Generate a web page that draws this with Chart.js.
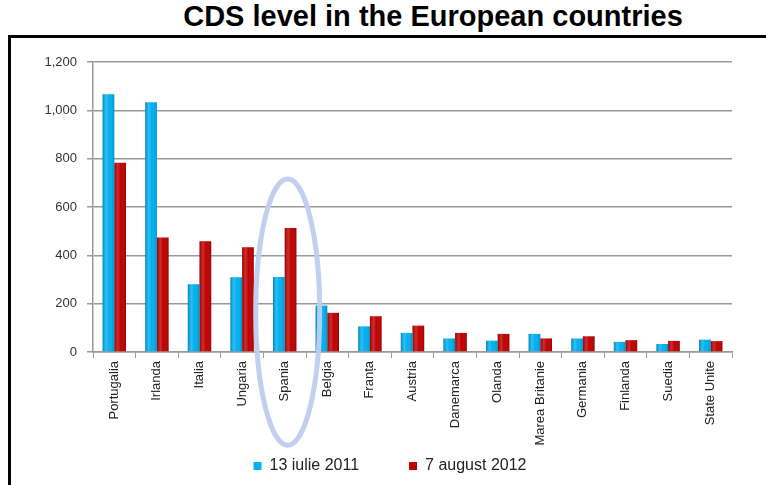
<!DOCTYPE html>
<html>
<head>
<meta charset="utf-8">
<script src="https://cdn.jsdelivr.net/npm/chart.js@4"></script>
<style>
  body { margin: 0; background: #fff; width: 766px; height: 485px; overflow: hidden; position: relative; }
  #title { position: absolute; top: 0px; left: 50px; width: 766px; text-align: center;
           font: bold 29px "Liberation Sans", Arial, sans-serif; color: #000; }
  #frame { position: absolute; top: 35px; left: 8px; width: 760px; height: 460px;
           border-top: 3px solid #000; border-left: 3px solid #000; }
  #cds { position: absolute; top: 0; left: 0; }
</style>
</head>
<body>
<div id="title">CDS level in the European countries</div>
<div id="frame"></div>
<canvas id="cds" width="766" height="485"></canvas>
<script>
// categories and series
const countries = ['Portugalia', 'Irlanda', 'Italia', 'Ungaria', 'Spania', 'Belgia', 'Franța', 'Austria',
    'Danemarca', 'Olanda', 'Marea Britanie', 'Germania', 'Finlanda', 'Suedia', 'State Unite'];
const jul2011 = [1067, 1033, 280, 309, 310, 192, 106, 79, 56, 47, 75, 56, 42, 33, 51];
const aug2012 = [783, 474, 458, 433, 513, 162, 148, 109, 79, 75, 56, 65, 49, 46, 45];
const seriesNames = ['13 iulie 2011', '7 august 2012'];
const yTicks = [0, 200, 400, 600, 800, 1000, 1200];

const blue = '#00b0f0';
const red = '#c00000';
const fontName = '"Liberation Sans", Arial, sans-serif';

// cylinder-ish shading on top of each bar
const shading = {
    id: 'shading',
    afterDatasetsDraw(chart) {
        const ctx = chart.ctx;
        chart.data.datasets.forEach((ds, i) => {
            chart.getDatasetMeta(i).data.forEach((bar) => {
                const left = bar.x - bar.width / 2;
                const g = ctx.createLinearGradient(left, 0, left + bar.width, 0);
                g.addColorStop(0, 'rgba(0,0,0,0.22)');
                g.addColorStop(0.3, 'rgba(255,255,255,0.18)');
                g.addColorStop(0.55, 'rgba(255,255,255,0)');
                g.addColorStop(1, 'rgba(0,0,0,0.18)');
                ctx.save();
                ctx.fillStyle = g;
                ctx.fillRect(left, bar.y, bar.width, bar.base - bar.y);
                ctx.restore();
            });
        });
    }
};

// highlight ring round Spania
const ring = {
    id: 'ring',
    afterDraw(chart) {
        const xs = chart.scales.x, ys = chart.scales.y;
        const cx = xs.getPixelForValue(countries.indexOf('Spania')) + 3;
        const cy = ys.getPixelForValue(165);
        const ctx = chart.ctx;
        ctx.save();
        ctx.beginPath();
        ctx.ellipse(cx, cy, 32, 133, 0, 0, Math.PI * 2);
        ctx.strokeStyle = 'rgba(190,206,238,0.95)';
        ctx.lineWidth = 5;
        ctx.stroke();
        ctx.restore();
    }
};

new Chart(document.getElementById('cds'), {
    type: 'bar',
    data: {
        labels: countries,
        datasets: [
            { label: seriesNames[0], data: jul2011, backgroundColor: blue, borderWidth: 0 },
            { label: seriesNames[1], data: aug2012, backgroundColor: red, borderWidth: 0 }
        ]
    },
    options: {
        responsive: false,
        animation: false,
        layout: { padding: { top: 62, left: 14, right: 0, bottom: 1 } },
        datasets: { bar: { categoryPercentage: 0.55, barPercentage: 1.0 } },
        plugins: {
            legend: {
                position: 'bottom',
                labels: {
                    boxWidth: 8, boxHeight: 8, padding: 10,
                    color: '#222',
                    font: { family: fontName, size: 16 },
                    // extra room after the first entry, like the original legend
                    generateLabels(chart) {
                        const items = Chart.defaults.plugins.legend.labels.generateLabels(chart);
                        items[0].text += '\u2003\u2003\u2002';
                        return items;
                    }
                }
            },
            tooltip: { enabled: false }
        },
        scales: {
            x: {
                grid: { display: true, drawOnChartArea: false, color: '#999', tickLength: 6 },
                border: { color: '#999', width: 1.5 },
                ticks: { minRotation: 90, maxRotation: 90, autoSkip: false, color: '#222',
                         font: { family: fontName, size: 13 } },
                afterFit(scale) { scale.height = 96; }
            },
            y: {
                min: 0, max: 1200,
                afterBuildTicks(scale) { scale.ticks = yTicks.map(v => ({ value: v })); },
                grid: { color: '#999', lineWidth: 1.5, tickLength: 6 },
                border: { color: '#999', width: 1.5 },
                ticks: { color: '#333', padding: 10, font: { family: fontName, size: 13 },
                         callback: v => v.toLocaleString('en-US') },
                afterFit(scale) { scale.width = 79; }
            },
            yRight: {
                position: 'right',
                display: true,
                grid: { display: false, drawOnChartArea: false },
                border: { display: false },
                ticks: { display: false },
                afterFit(scale) { scale.width = 34; }
            }
        }
    },
    plugins: [shading, ring]
});
</script>
</body>
</html>
